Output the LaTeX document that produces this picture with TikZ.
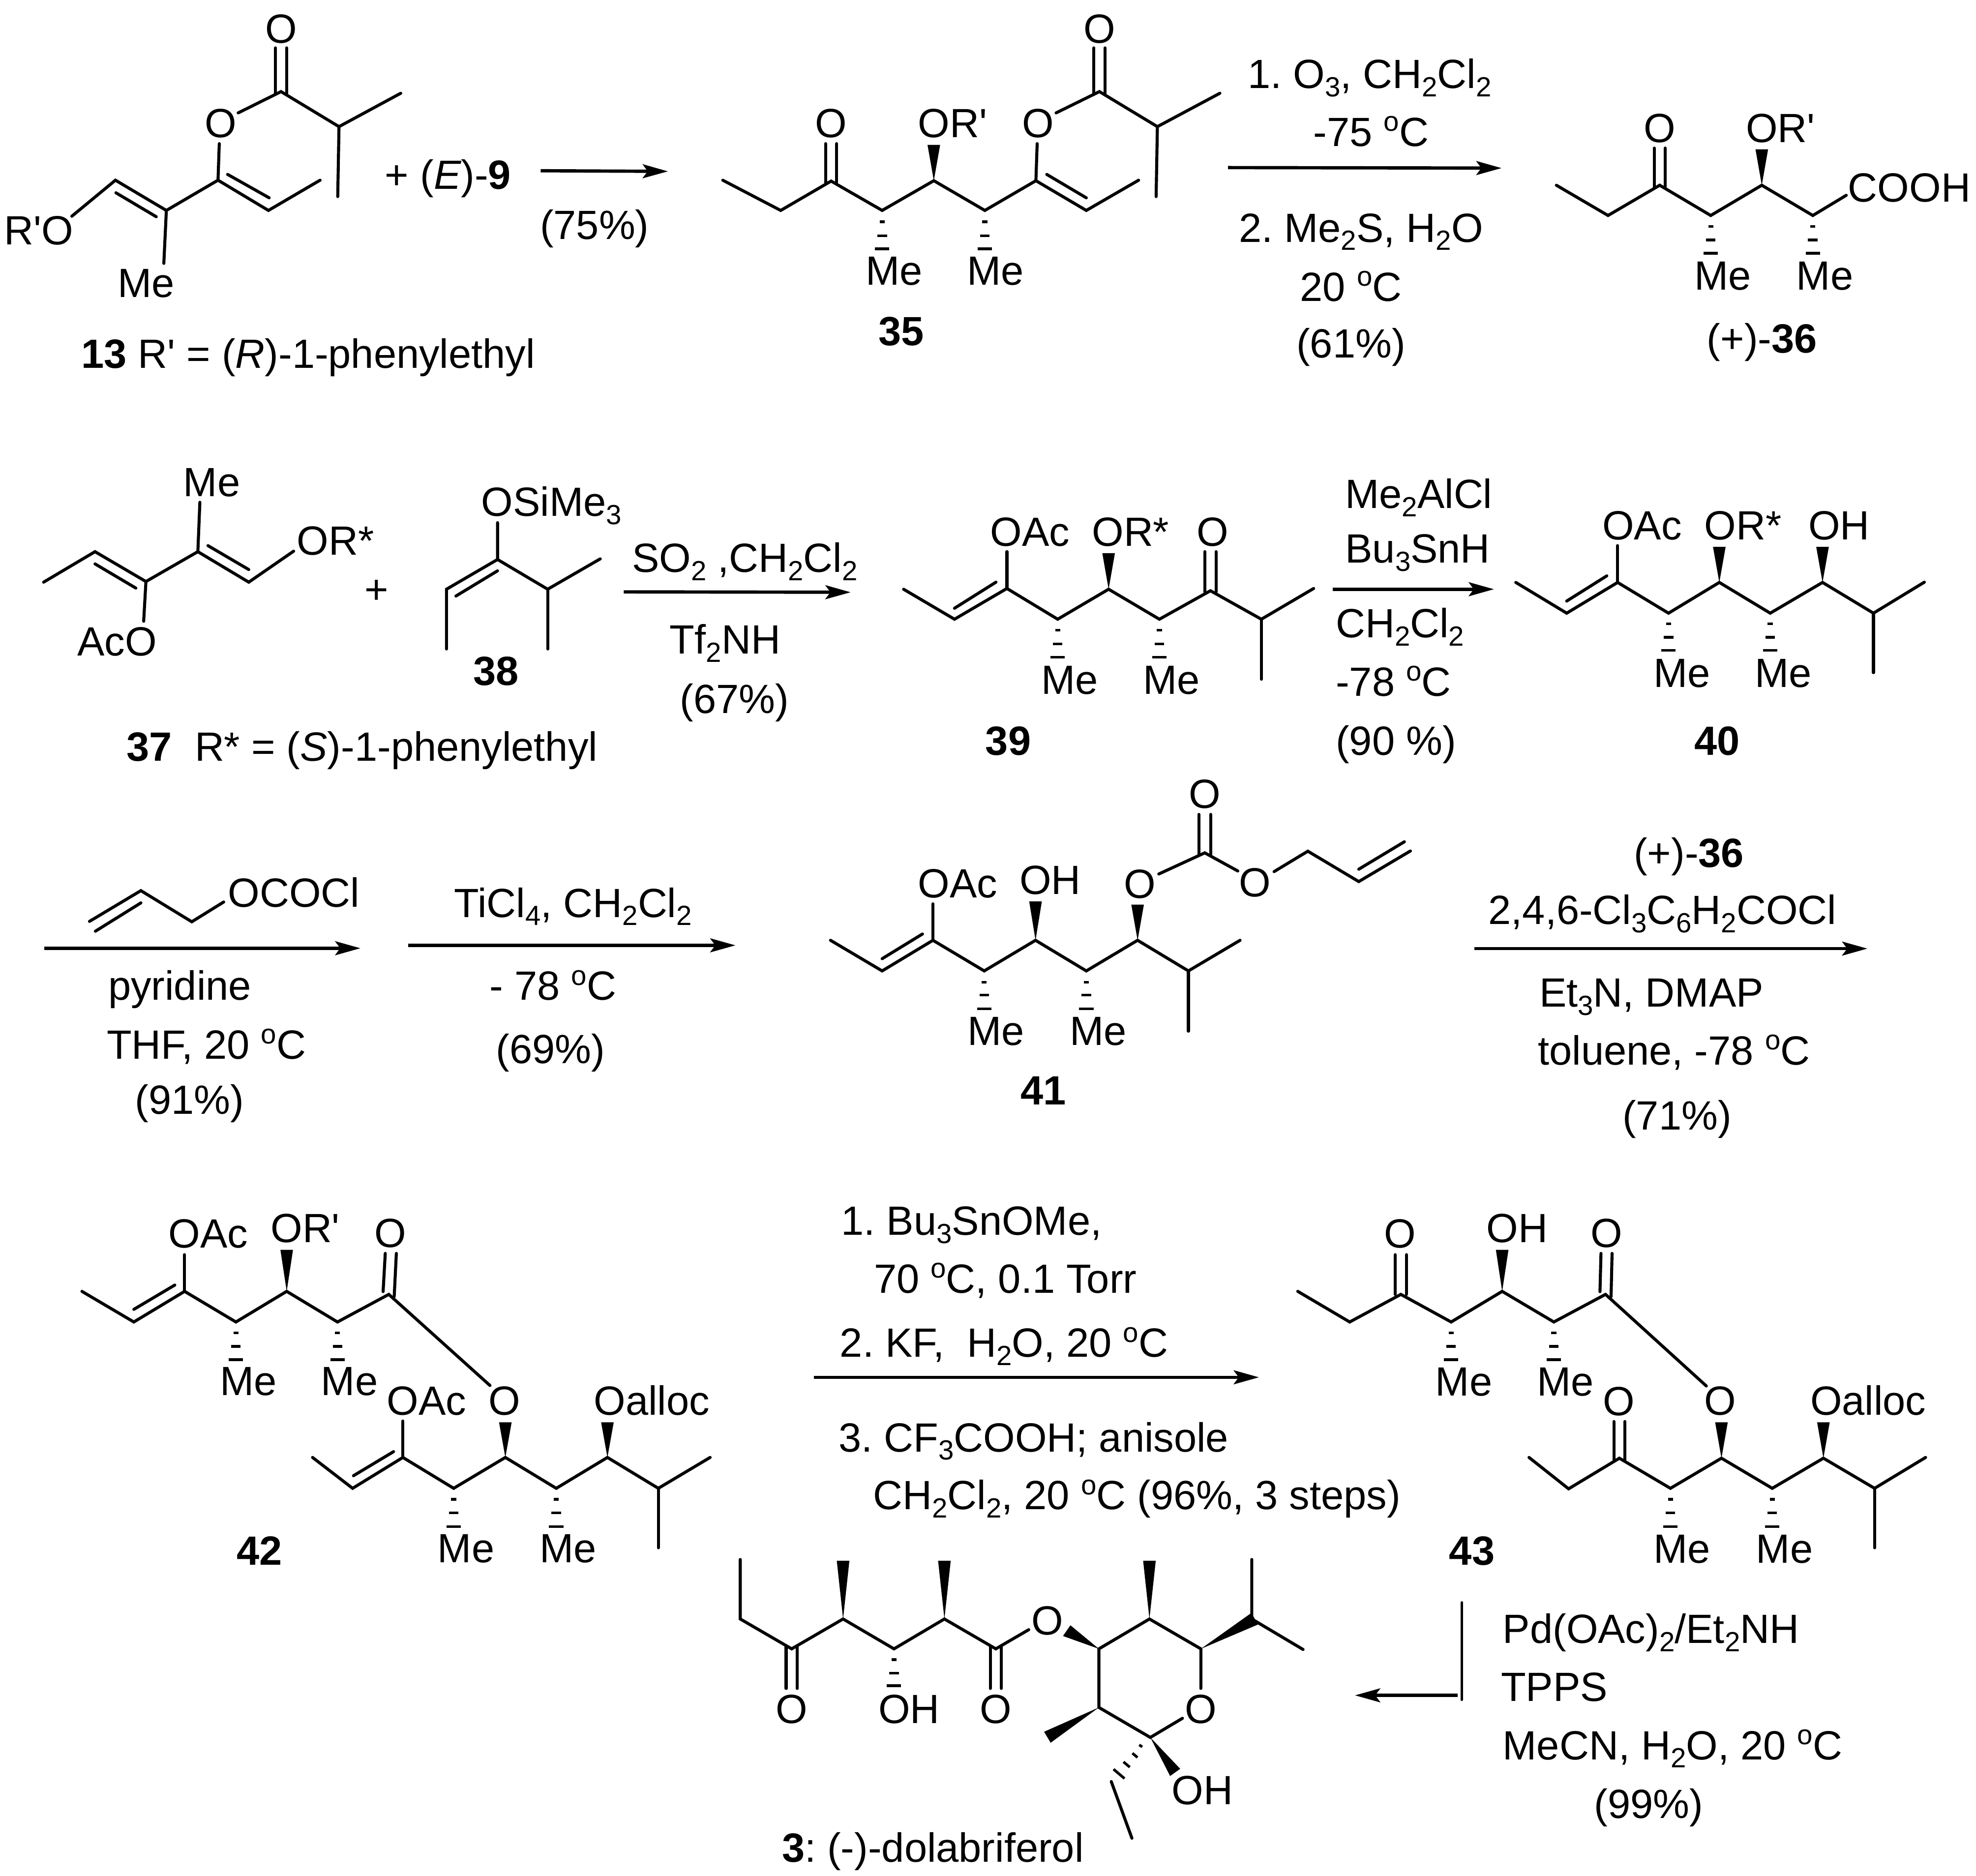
\documentclass[tikz,border=0pt]{standalone}
\usepackage{fontspec}
\usetikzlibrary{arrows.meta}
\newfontfamily\lib{Liberation Sans}
\newcounter{lc}
\frenchspacing
\tikzset{
  txt/.style={font=\lib\frenchspacing\fontsize{32.4}{36}\selectfont,inner sep=0pt,outer sep=0pt,text=black},
  bond/.style={line width=2.4pt,line cap=round,line join=miter,miter limit=4,black},
  hashbar/.style={line width=2.1pt,black},
  rxn/.style={line width=2.6pt,black,-{Stealth[length=20pt,width=11pt,inset=4pt]}},
}
\newcommand\lw[3]{\stepcounter{lc}\node[txt,anchor=base west,xshift=-1.5pt] (l\arabic{lc}) at (#1,#2) {#3};}
\newcommand\lc[3]{\stepcounter{lc}\node[txt,anchor=base] (l\arabic{lc}) at (#1,#2) {#3};}
\newcommand\sbs[1]{\raisebox{-6.6pt}{\fontsize{22}{22}\selectfont #1}}
\newcommand\dgc{\raisebox{12pt}{\fontsize{22}{22}\selectfont o}C}
\newcommand\vw[3]{\fill[black] (#1,#2)--({#1-5},#3)--({#1+5},#3)--cycle;}
\newcommand\hsh[4]{\draw[hashbar] ({#1-2},#2)--({#1+2},#2) ({#1-3.8},#3)--({#1+3.8},#3) ({#1-5.7},#4)--({#1+5.7},#4);}
\newcommand\dbl[3]{\draw[bond] ({#1-4.4},{#2+2})--({#1-4.4},#3) ({#1+4.4},{#2+2})--({#1+4.4},#3);}
\begin{document}
\begin{tikzpicture}[x=1pt,y=-1pt]
\useasboundingbox (0,0) rectangle (1568,1488.4);
\fill[white] (0,0) rectangle (1568,1488.4);
% ---- 13
\dbl{223}{72.7}{38}
\draw[bond] (189,89.6)--(223,72.7)--(269,100.5)--(318,74);
\draw[bond] (269,100.5)--(268,156);
\draw[bond] (174,114)--(173,143)--(213,167)--(254,143);
\draw[bond] (180.6,138.4)--(213.6,157);
\draw[bond] (173,143)--(132,167)--(130,209);
\draw[bond] (57,171.6)--(91.6,143)--(132,167);
\draw[bond] (92,153)--(124,172);
\lc{223}{34}{O}
\lc{175}{109}{O}
\lw{5}{194}{R'O}
\lw{95}{236}{Me}
\lw{66}{292}{{\bfseries 13} R' = ({\itshape R})-1-phenylethyl}
\lw{307}{150}{+ ({\itshape E})-{\bfseries 9}}
\lw{430}{190}{(75\%)}
\draw[rxn] (429,135.5)--(530,136);
% ---- 35
\draw[bond] (573.5,143)--(619.5,167)--(659.5,143.7)--(700,167)--(741,143.4)--(781.5,167)--(822,143.4)--(862,167)--(903.5,143);
\dbl{659.5}{143.7}{114}
\vw{741}{143.4}{115}
\draw[bond] (830.6,138.4)--(862,157);
\draw[bond] (823,114)--(822,143.4);
\draw[bond] (838,89.6)--(872.4,72.7)--(918.4,100.5)--(968,74);
\draw[bond] (918.4,100.5)--(917.4,156);
\dbl{872.4}{72.7}{38}
\hsh{700}{176}{187}{197.5}
\hsh{781.5}{176}{187}{197.5}
\lc{659.5}{109}{O}
\lw{730}{109}{OR'}
\lc{823.6}{109}{O}
\lc{872.4}{34}{O}
\lw{688.5}{226}{Me}
\lw{769}{226}{Me}
\lc{715.3}{274}{\bfseries 35}
% conditions 1
\draw[rxn] (974.5,133)--(1191.5,133.4);
\lw{991.6}{70}{1. O\sbs{3}, CH\sbs{2}Cl\sbs{2}}
\lc{1088}{116}{-75 \dgc}
\lw{984.6}{192}{2. Me\sbs{2}S, H\sbs{2}O}
\lc{1072}{239}{20 \dgc}
\lc{1072}{284}{(61\%)}
% ---- 36
\draw[bond] (1235,147)--(1276,171)--(1317,147)--(1357.5,171)--(1398,147)--(1438.5,171)--(1465,155);
\dbl{1317}{147}{117.5}
\vw{1398}{147}{118.5}
\hsh{1357.5}{179.6}{190.5}{201}
\hsh{1438.5}{179.6}{190.5}{201}
\lc{1317}{113}{O}
\lw{1387}{113}{OR'}
\lw{1468}{160}{COOH}
\lw{1346}{230}{Me}
\lw{1427}{230}{Me}
\lw{1356}{280}{(+)-{\bfseries 36}}
% ---- 37
\draw[bond] (34.6,462)--(75.4,437.8)--(115.8,461.5)--(157,437.8)--(197.4,462)--(233,437.4);
\draw[bond] (75.4,447.5)--(107.8,466.7);
\draw[bond] (115.8,461.5)--(114,493);
\draw[bond] (157,437.8)--(158.6,398.6);
\draw[bond] (165,433)--(197.4,452);
\lw{63}{520.5}{AcO}
\lw{147}{394}{Me}
\lw{237}{440.4}{OR*}
\lc{299}{479}{+}
% ---- 38
\draw[bond] (394.8,414.8)--(394.8,444)--(354.3,467.6)--(354.3,515);
\draw[bond] (394.8,453)--(361.8,473);
\draw[bond] (394.8,444)--(434.6,467.6)--(476.3,443.5);
\draw[bond] (434.6,467.6)--(434.6,515);
\lw{383.5}{409.6}{OSiMe\sbs{3}}
\lc{393.5}{543.7}{\bfseries 38}
\lw{102}{604}{{\bfseries 37}\ \ R* = ({\itshape S})-1-phenylethyl}
% conditions 2
\draw[rxn] (495,469.7)--(675,470);
\lw{503}{454}{SO\sbs{2} ,CH\sbs{2}Cl\sbs{2}}
\lw{533}{519}{Tf\sbs{2}NH}
\lw{541}{566}{(67\%)}
% ---- 39
\draw[bond] (717,467.6)--(757.4,491.4)--(799,467)--(839.3,491.4)--(879.7,467.6)--(920,491.4)--(960.5,468.8)--(1000.9,491.4)--(1042.4,467);
\draw[bond] (757.4,482.7)--(790.3,462);
\draw[bond] (799,467)--(799,437.8);
\vw{879.7}{467.6}{439}
\dbl{960.5}{467.8}{437.8}
\draw[bond] (1000.9,491.4)--(1000.9,539);
\hsh{839.3}{500}{511}{521.6}
\hsh{920}{500}{511}{521.6}
\lw{787.4}{433.4}{OAc}
\lw{868}{433.4}{OR*}
\lc{962.2}{433.4}{O}
\lw{827.8}{550.7}{Me}
\lw{908.6}{550.7}{Me}
\lc{800}{599.4}{\bfseries 39}
% conditions 3
\lw{1069}{403.5}{Me\sbs{2}AlCl}
\lw{1069}{446.5}{Bu\sbs{3}SnH}
\draw[rxn] (1057.4,467.6)--(1185.5,467.6);
\lw{1061.5}{506}{CH\sbs{2}Cl\sbs{2}}
\lw{1061.5}{552.4}{-78 \dgc}
\lw{1061.5}{599.4}{(90 \%)}
% ---- 40
\draw[bond] (1202.8,462.2)--(1243.2,486.6)--(1283.6,462.2)--(1324,486.6)--(1364.3,462.2)--(1404.7,486.6)--(1446.2,462.2)--(1486.6,486.6)--(1527,462);
\draw[bond] (1243.2,477)--(1275,457);
\draw[bond] (1283.6,462.2)--(1283.6,433);
\vw{1364.3}{462.2}{434}
\vw{1446.2}{462.2}{434}
\draw[bond] (1486.6,486.6)--(1486.6,533.8);
\hsh{1324}{495}{505.7}{516}
\hsh{1404.7}{495}{505.7}{516}
\lw{1273}{428.2}{OAc}
\lw{1354}{428.2}{OR*}
\lw{1436.5}{428.2}{OH}
\lw{1313.6}{545.4}{Me}
\lw{1394}{545.4}{Me}
\lc{1362.6}{599.4}{\bfseries 40}
% conditions 4
\draw[bond] (71,731.2)--(111.8,706.8)--(152.2,731.5)--(177.5,715.8);
\draw[bond] (75.7,739)--(111.8,716.5);
\lw{182.5}{719.6}{OCOCl}
\draw[rxn] (35,752.5)--(286,752.5);
\lw{87.4}{793.7}{pyridine}
\lw{86.2}{840.3}{THF, 20 \dgc}
\lw{108.7}{884}{(91\%)}
% conditions 5
\lw{362}{727.8}{TiCl\sbs{4}, CH\sbs{2}Cl\sbs{2}}
\draw[rxn] (324,750.2)--(583.6,750.2);
\lw{390}{793.7}{- 78 \dgc}
\lw{395}{843.8}{(69\%)}
% ---- 41
\draw[bond] (659,746.2)--(700,770.5)--(740.3,746.2)--(781,770.5)--(821.7,746.2)--(862,770.5)--(902.7,746.2)--(943,770.5)--(984,746.2);
\draw[bond] (700,760.8)--(732,741.2);
\draw[bond] (740.3,746.2)--(740.3,717.3);
\vw{821.7}{746.2}{715.4}
\vw{902.7}{746.2}{717.9}
\draw[bond] (943,770.5)--(943,818.3);
\hsh{781}{779.5}{789.7}{800.6}
\hsh{862}{779.5}{789.7}{800.6}
\draw[bond] (919.5,693.6)--(956,676.8)--(982.2,691.2);
\draw[bond] (951.3,678)--(951.3,646.3) (960.7,678)--(960.7,646.3);
\draw[bond] (1011,691.7)--(1037.8,675.5)--(1078.2,699.6)--(1119.2,675.3);
\draw[bond] (1078.2,689.8)--(1114.4,668);
\lw{730}{712.3}{OAc}
\lw{810.5}{709.8}{OH}
\lc{904.6}{712.6}{O}
\lc{956}{641.3}{O}
\lc{996}{711.7}{O}
\lw{769.4}{829.5}{Me}
\lw{850.4}{829.5}{Me}
\lc{828}{876.5}{\bfseries 41}
% conditions 6
\lw{1298}{688}{(+)-{\bfseries 36}}
\lw{1182.6}{733.3}{2,4,6-Cl\sbs{3}C\sbs{6}H\sbs{2}COCl}
\draw[rxn] (1169.8,752.8)--(1481.8,752.8);
\lw{1223}{799}{Et\sbs{3}N, DMAP}
\lw{1222}{845}{toluene, -78 \dgc}
\lw{1289}{896.5}{(71\%)}
% ---- 42
\draw[bond] (65,1024.8)--(106.2,1049.1)--(146.5,1024.8)--(187.2,1049.1)--(227.5,1024.8)--(267.8,1049.1)--(308.5,1027.2)--(388.8,1099.5);
\draw[bond] (106.2,1039.1)--(138.7,1019.8);
\draw[bond] (146.5,1024.8)--(146.5,995.7);
\vw{227.5}{1024.8}{991.8}
\draw[bond] (304,1025)--(305.7,994.7) (312.8,1029)--(314.5,994.7);
\hsh{187.2}{1057.7}{1068.4}{1079}
\hsh{267.8}{1057.7}{1068.4}{1079}
\draw[bond] (248,1156.6)--(279.8,1181.1)--(319.7,1156.6)--(360,1181.1)--(401,1156.6)--(441.4,1181.1)--(482,1156.6)--(522.4,1181.1)--(563.5,1156.6);
\draw[bond] (280.5,1171.1)--(312.3,1152);
\draw[bond] (319.7,1156.6)--(319.7,1127.7);
\vw{401}{1156.6}{1128.7}
\vw{482}{1156.6}{1128.7}
\draw[bond] (522.4,1181.1)--(522.4,1228.3);
\hsh{360}{1189.9}{1200.6}{1211.4}
\hsh{441.4}{1189.9}{1200.6}{1211.4}
\lw{135.3}{990.4}{OAc}
\lw{216.3}{985.8}{OR'}
\lc{309.6}{989.8}{O}
\lw{176}{1107.2}{Me}
\lw{256.3}{1107.2}{Me}
\lw{308.5}{1122.8}{OAc}
\lc{400.4}{1122.8}{O}
\lw{472.8}{1122.8}{Oalloc}
\lw{348.8}{1239.8}{Me}
\lw{429.9}{1239.8}{Me}
\lc{205.9}{1241.8}{\bfseries 42}
% conditions 7
\lw{669}{980}{1. Bu\sbs{3}SnOMe,}
\lw{695}{1026}{70 \dgc, 0.1 Torr}
\lw{668}{1077}{2. KF,\ \ H\sbs{2}O, 20 \dgc}
\draw[rxn] (646,1093)--(999,1093);
\lw{667}{1152}{3. CF\sbs{3}COOH; anisole}
\lw{694.4}{1198}{CH\sbs{2}Cl\sbs{2}, 20 \dgc\ (96\%, 3 steps)}
% ---- 43
\draw[bond] (1029.8,1024.8)--(1071,1049.1)--(1111.6,1027.2)--(1151.5,1049.1)--(1192,1024.8)--(1233,1049.1)--(1274,1027.2)--(1354,1099.9);
\dbl{1111.6}{1025.2}{995.7}
\vw{1192}{1024.8}{991.8}
\draw[bond] (1269.6,1025)--(1270.4,994.7) (1278.4,1029)--(1279.2,994.7);
\hsh{1151.5}{1057.7}{1068.4}{1079}
\hsh{1233}{1057.7}{1068.4}{1079}
\draw[bond] (1213.3,1156.6)--(1244.7,1181.5)--(1285,1157.2)--(1325.5,1181.1)--(1366,1157.2)--(1406.3,1181.1)--(1446.9,1157.2)--(1487.5,1181.1)--(1528,1156.6);
\dbl{1285}{1157.2}{1128.1}
\vw{1366}{1157.2}{1128.7}
\vw{1446.9}{1157.2}{1128.7}
\draw[bond] (1487.5,1181.1)--(1487.5,1228.3);
\hsh{1325.5}{1189.9}{1200.6}{1211.4}
\hsh{1406.3}{1189.9}{1200.6}{1211.4}
\lc{1111}{990.4}{O}
\lw{1181}{985.8}{OH}
\lc{1274.7}{989.8}{O}
\lw{1140.6}{1107.8}{Me}
\lw{1221}{1107.8}{Me}
\lc{1284.6}{1123.4}{O}
\lc{1365}{1122.8}{O}
\lw{1438}{1123}{Oalloc}
\lw{1313.5}{1240.2}{Me}
\lw{1395}{1240.2}{Me}
\lc{1168}{1241.8}{\bfseries 43}
% conditions 8
\draw[bond,line width=2pt] (1160,1271.7)--(1160,1348.9);
\draw[rxn] (1156.7,1345.4)--(1075.2,1345.4);
\lw{1194}{1304}{Pd(OAc)\sbs{2}/Et\sbs{2}NH}
\lw{1192.6}{1350}{TPPS}
\lw{1194}{1396.3}{MeCN, H\sbs{2}O, 20 \dgc}
\lw{1266.4}{1442.9}{(99\%)}
% ---- 3
\draw[bond] (587.4,1237.6)--(587.4,1284.8)--(628.2,1308.5)--(669,1284.8)--(709.4,1308.5)--(749.4,1284.8)--(790.2,1308.5)--(816.3,1293.3);
\draw[bond] (623.8,1307)--(623.8,1339.9) (632.6,1307)--(632.6,1339.9);
\draw[bond] (785.8,1307)--(785.8,1339.9) (794.6,1307)--(794.6,1339.9);
\vw{669}{1284.8}{1238.6}
\vw{749.4}{1284.8}{1238.6}
\hsh{709.4}{1317}{1327.7}{1337.8}
\fill[black] (872,1308.5)--(849.4,1289.8)--(843.5,1298.3)--cycle;
\draw[bond] (952.9,1339.9)--(952.9,1308.5)--(912.1,1284.8)--(872,1308.5)--(872,1355)--(912.8,1378.8)--(938.3,1363.6);
\vw{912.1}{1284.8}{1238.6}
\fill[black] (952.9,1308.5)--(993,1280)--(998.2,1289.2)--cycle;
\draw[bond] (993.3,1237.6)--(993.3,1284.8)--(1034,1309);
\fill[black] (872,1355)--(828.5,1374.3)--(833.7,1383)--cycle;
\fill[black] (912.8,1378.8)--(936.5,1403.7)--(928.5,1409.4)--cycle;
\draw[hashbar] (904,1384.7)--(906.4,1386.3) (898.6,1391.3)--(902.6,1394.7) (891.5,1398.2)--(896.5,1402.4) (883.6,1404)--(892.3,1411.4);
\draw[bond] (881.8,1413.8)--(898.2,1458.8);
\lc{628.2}{1367.6}{O}
\lw{698.5}{1367.6}{OH}
\lc{790.2}{1367.6}{O}
\lc{831.3}{1297.3}{O}
\lc{952.9}{1367.6}{O}
\lw{931.3}{1432}{OH}
\lw{622}{1477.5}{{\bfseries 3}: (-)-dolabriferol}
\end{tikzpicture}
\end{document}
